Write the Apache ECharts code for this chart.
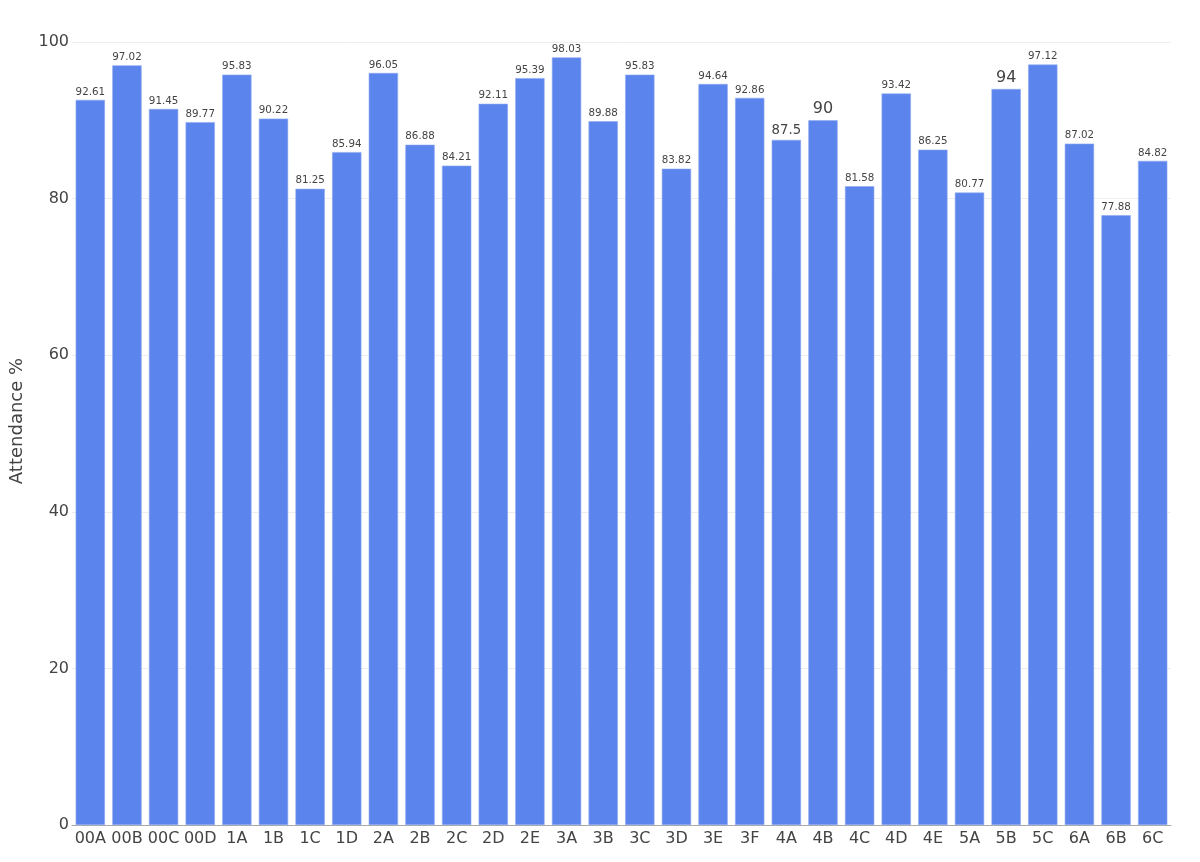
<!DOCTYPE html>
<html><head><meta charset="utf-8">
<script src="https://cdn.jsdelivr.net/npm/echarts@6/dist/echarts.min.js"></script>
<style>html,body{margin:0;padding:0;background:#fff}#c{width:1200px;height:862px}</style>
</head><body><div id="c"></div>
<script>
const categories = ["00A","00B","00C","00D","1A","1B","1C","1D","2A","2B","2C","2D","2E","3A","3B","3C","3D","3E","3F","4A","4B","4C","4D","4E","5A","5B","5C","6A","6B","6C"];
const attendance = [92.61,97.02,91.45,89.77,95.83,90.22,81.25,85.94,96.05,86.88,84.21,92.11,95.39,98.03,89.88,95.83,83.82,94.64,92.86,87.5,90,81.58,93.42,86.25,80.77,94,97.12,87.02,77.88,84.82];
const yTicks = [0,20,40,60,80,100];

const FONT = "DejaVu Sans, Verdana, sans-serif";
const ctx = document.createElement('canvas').getContext('2d');
ctx.font = "100px " + FONT;
const barW = 29.5;
function labelSize(s){ const w = ctx.measureText(s).width/100; return Math.min(16, barW / w); }

const chart = echarts.init(document.getElementById('c'), null, {renderer:'canvas'});
chart.setOption({
  animation:false,
  textStyle:{fontFamily:FONT},
  grid:{left:65,right:29,top:42,bottom:37,containLabel:false},
  xAxis:{type:'category',data:categories,
    axisLine:{show:true,lineStyle:{color:'#aaa',width:1}},
    axisTick:{show:false},
    axisLabel:{color:'#444',fontSize:16,fontFamily:FONT,margin:6,interval:0}},
  yAxis:{type:'value',min:yTicks[0],max:yTicks[yTicks.length-1],interval:20,
    name:'Attendance %',nameLocation:'middle',nameGap:46,
    nameTextStyle:{color:'#444',fontSize:18,fontFamily:FONT,padding:[0,0,0,25]},
    axisLine:{show:false},axisTick:{show:false},
    axisLabel:{color:'#444',fontSize:16,fontFamily:FONT,margin:3},
    splitLine:{lineStyle:{color:'#eee',width:1}}},
  series:[{type:'bar',barCategoryGap:'20%',
    data:attendance.map(v=>({value:v,label:{fontSize:labelSize(String(v))}})),
    itemStyle:{color:'#5b84ec',borderColor:'#8eaaf2',borderWidth:0.6},
    label:{show:true,position:'top',distance:3,color:'#444',fontFamily:FONT,formatter:p=>String(p.value)}
  }]
});
</script></body></html>
